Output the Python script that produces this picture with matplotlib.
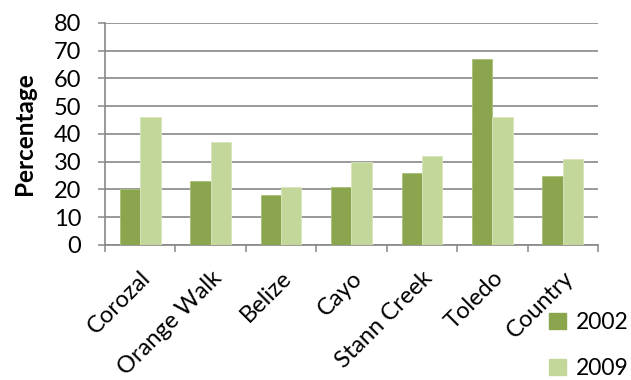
import matplotlib.pyplot as plt
import numpy as np
from matplotlib.patches import Patch

# District shares for the two survey years
districts = ["Corozal", "Orange Walk", "Belize", "Cayo", "Stann Creek", "Toledo", "Country"]
pct_2002 = [20, 23, 18, 21, 26, 67, 25]
pct_2009 = [46, 37, 21, 30, 32, 46, 31]
years = ["2002", "2009"]

dark_green = "#8ba54e"
light_green = "#c4d79b"
grid_gray = "#888888"

plt.rcParams['font.family'] = ['Lato', 'DejaVu Sans']

fig = plt.figure(figsize=(6.31, 3.80), dpi=100)
ax = fig.add_axes([0.1664, 0.3553, 0.7813, 0.5842])

x = np.arange(len(districts))
w = 0.29
ax.bar(x - w / 2, pct_2002, width=w, color=dark_green, edgecolor="#a9c078", linewidth=0.6, zorder=3)
ax.bar(x + w / 2, pct_2009, width=w, color=light_green, edgecolor="#d8e6bb", linewidth=0.6, zorder=3)

ax.set_xlim(-0.5, len(districts) - 0.5)
ax.set_ylim(0, 80)
ax.set_yticks(range(0, 81, 10))
ax.tick_params(axis="y", labelsize=17, length=5, width=1.1, color=grid_gray, pad=12)
ax.yaxis.grid(True, color=grid_gray, linewidth=1.2, zorder=0)
ax.set_axisbelow(True)

# category labels on major ticks, tick marks between categories
ax.set_xticks(x)
ax.set_xticklabels(districts, rotation=45, ha="right", rotation_mode="anchor", fontsize=17)
ax.tick_params(axis="x", which="major", length=0, pad=16)
ax.set_xticks(np.arange(-0.5, len(districts), 1), minor=True)
ax.tick_params(axis="x", which="minor", length=5, width=1.1, color=grid_gray)

for side in ["top", "right"]:
    ax.spines[side].set_visible(False)
for side in ["left", "bottom"]:
    ax.spines[side].set_color(grid_gray)
    ax.spines[side].set_linewidth(1.2)

ax.set_ylabel("Percentage", fontsize=17.5, fontweight="bold", labelpad=13)

handles = [Patch(color=dark_green), Patch(color=light_green)]
fig.legend(handles, years, loc="upper left", bbox_to_anchor=(549 / 631, 1 - 312 / 380),
           frameon=False, fontsize=16.5, handlelength=0.72, handleheight=0.72,
           handletextpad=0.45, labelspacing=1.1, borderpad=0, borderaxespad=0)

fig.savefig("out.png", dpi=100)
